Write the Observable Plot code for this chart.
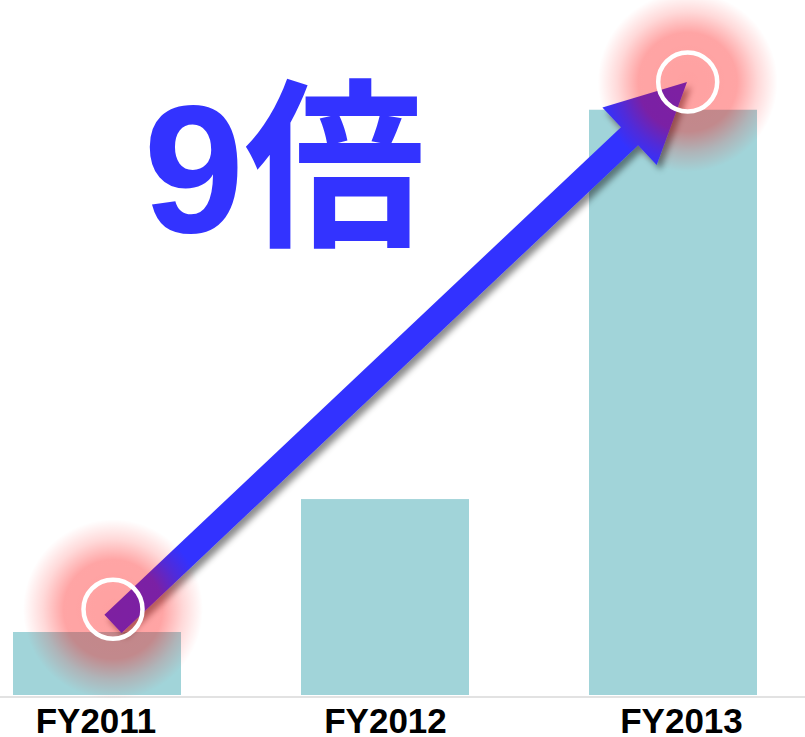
<!DOCTYPE html>
<html><head><meta charset="utf-8">
<script src="https://cdn.jsdelivr.net/npm/d3@7"></script>
<script src="https://cdn.jsdelivr.net/npm/@observablehq/plot@0.6"></script>
<style>html,body{margin:0;padding:0;background:#fff}#chart svg{display:block}</style>
</head><body><div id="chart"></div>
<script>
// ---- data ----
const years = ["FY2011", "FY2012", "FY2013"];
const values = [1.0, 3.11, 9.29];
const multipleLabel = ["9倍"];
const arrowYears = ["FY2011", "FY2013"];
const arrowValues = [1.13, 9.73];
const markerYears = ["FY2011", "FY2013"];
const markerValues = [1.36, 9.73];

const data = years.map((year, i) => ({year, value: values[i]}));

// ---- annotation: arrow + glow + rings, positioned through Plot's scales ----
function annotations(index, scales) {
  const bwRaw = scales.x.bandwidth;
  const bw = typeof bwRaw === "function" ? bwRaw() : (bwRaw || 0);
  const cx = (yr) => scales.x(yr) + bw / 2;
  const markerDx = [16, 14.7];
  const arrowDx = [16, 14];
  const g = d3.create("svg:g");
  const defs = g.append("defs");
  const rg = defs.append("radialGradient").attr("id", "glowGrad");
  [[0, 0.37], [0.55, 0.355], [0.78, 0.15], [1, 0]].forEach(([o, a]) =>
    rg.append("stop").attr("offset", o).attr("stop-color", "#ff0000").attr("stop-opacity", a));
  const f = defs.append("filter").attr("id", "arrowShadow")
    .attr("x", "-20%").attr("y", "-20%").attr("width", "140%").attr("height", "140%");
  f.append("feDropShadow").attr("dx", 4).attr("dy", 5).attr("stdDeviation", 3)
    .attr("flood-color", "#000").attr("flood-opacity", 0.45);

  // arrow
  const T = [cx(arrowYears[0]) + arrowDx[0], scales.y(arrowValues[0])];
  const P = [cx(arrowYears[1]) + arrowDx[1], scales.y(arrowValues[1])];
  const L = Math.hypot(P[0] - T[0], P[1] - T[1]);
  const u = [(P[0] - T[0]) / L, (P[1] - T[1]) / L];
  const n = [-u[1], u[0]];
  const headLen = 79, headHalf = 39.5, shaftHalf = 12.5;
  const B = [P[0] - u[0] * headLen, P[1] - u[1] * headLen];
  const pt = (p, k) => [p[0] + n[0] * k, p[1] + n[1] * k];
  const pts = [pt(T, shaftHalf), pt(B, shaftHalf), pt(B, headHalf), P, pt(B, -headHalf), pt(B, -shaftHalf), pt(T, -shaftHalf)];
  g.append("path").attr("d", "M" + pts.map(p => p.join(",")).join("L") + "Z")
    .attr("fill", "#3333ff").attr("filter", "url(#arrowShadow)");

  // glows and rings
  markerYears.forEach((yr, i) => {
    const x = cx(yr) + markerDx[i], y = scales.y(markerValues[i]);
    g.append("circle").attr("cx", x).attr("cy", y).attr("r", 90).attr("fill", "url(#glowGrad)");
  });
  markerYears.forEach((yr, i) => {
    const x = cx(yr) + markerDx[i], y = scales.y(markerValues[i]);
    g.append("circle").attr("cx", x).attr("cy", y).attr("r", 29.5)
      .attr("fill", "none").attr("stroke", "#fff").attr("stroke-width", 4.5);
  });
  return g.node();
}

const labelDx = [-1.5, 0, 8];

const chart = Plot.plot({
  width: 805,
  height: 737,
  marginLeft: 0,
  marginRight: 0,
  marginTop: 65,
  marginBottom: 42,
  x: {domain: years, paddingInner: 0.415, paddingOuter: 0.1009, align: 0.223, axis: null},
  y: {domain: [0, 10], axis: null},
  marks: [
    Plot.barY(data, {x: "year", y: "value", fill: "#a1d4d9"}),
    Plot.ruleY([0], {stroke: "#d9d9d9", strokeWidth: 1.5, dy: 1.5}),
    ...years.map((yr, i) => Plot.text([yr], {
      x: d => d, frameAnchor: "bottom", dx: labelDx[i], dy: 37.5, lineAnchor: "bottom",
      fontSize: 35, fontWeight: "bold", fill: "#000",
      fontFamily: "'Liberation Sans', Arial, sans-serif"
    })),
    Plot.text(multipleLabel, {
      frameAnchor: "top-left", dx: 143, dy: 166, lineAnchor: "bottom", textAnchor: "start",
      fontSize: 181, fontWeight: "bold", fill: "#3333ff",
      fontFamily: "'Liberation Sans', 'Noto Sans CJK JP', sans-serif"
    }),
    annotations
  ]
});
document.getElementById("chart").append(chart);
</script>
</body></html>
